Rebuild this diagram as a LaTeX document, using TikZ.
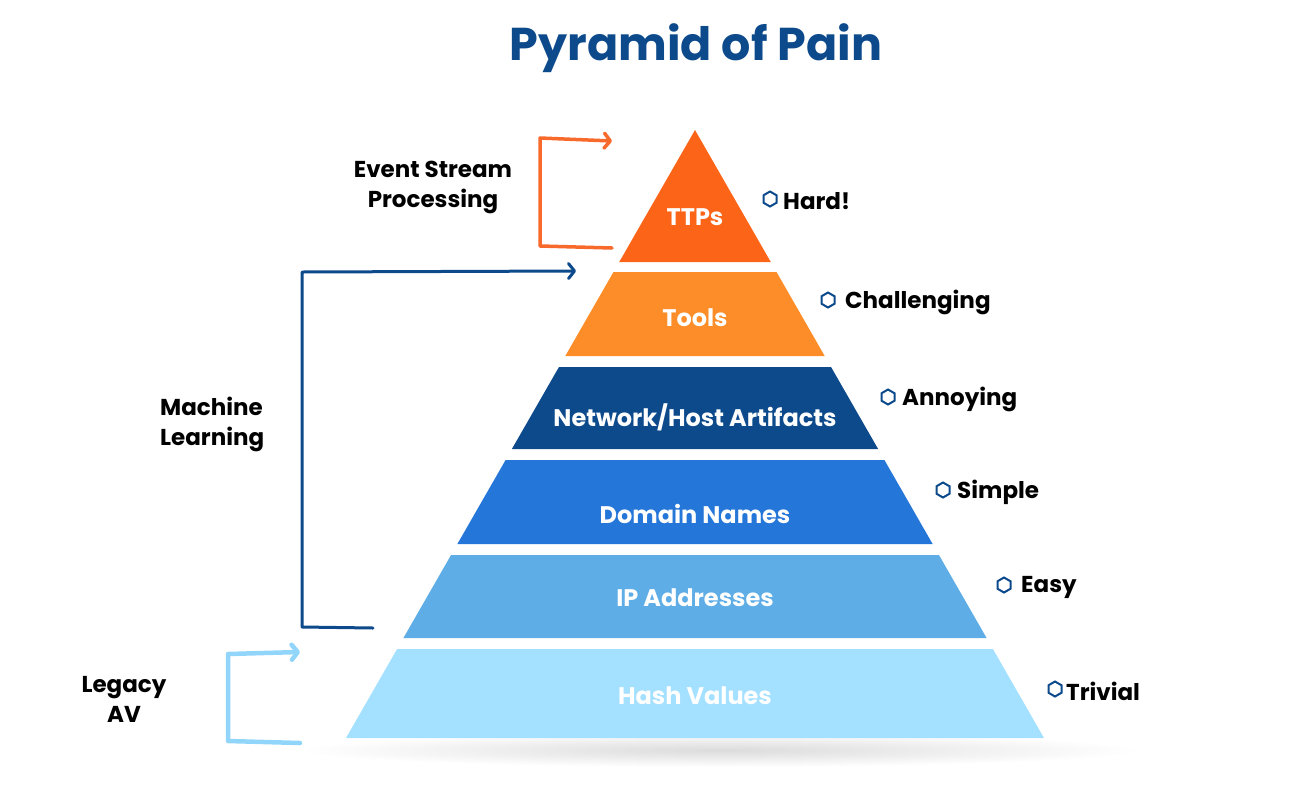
\documentclass[tikz,border=0pt]{standalone}
\usepackage{fontspec}
\setmainfont{Poppins}
\usetikzlibrary{arrows.meta,shapes.geometric,positioning}

\definecolor{ttpcol}{HTML}{FC6418}
\definecolor{toolcol}{HTML}{FC8D28}
\definecolor{netcol}{HTML}{0C4A8C}
\definecolor{domcol}{HTML}{2476D8}
\definecolor{ipcol}{HTML}{5EADE7}
\definecolor{hashcol}{HTML}{A4E0FF}
\definecolor{espcol}{HTML}{F8692C}
\definecolor{avcol}{HTML}{92D5FB}

%% one band of the pyramid: name, colour, top, bottom, text height, text
\newcommand{\pyrlayer}[6]{%
  \fill[#2] ({695-0.574*(#3-130)},#3) -- ({695+0.574*(#3-130)},#3)
    -- ({695+0.574*(#4-130)},#4) -- ({695-0.574*(#4-130)},#4) -- cycle;
  \node[layertext] (#1) at (695,#5) {#6};}

\begin{document}
\begin{tikzpicture}[x=1pt,y=-1pt,
    layertext/.style={text=white,font=\fontsize{24}{27}\selectfont\bfseries},
    sidetext/.style={text=black,font=\fontsize{23}{30}\selectfont\bfseries,
      inner sep=0pt,anchor=west},
    lefttext/.style={text=black,font=\fontsize{23}{30}\selectfont\bfseries,
      align=center,inner sep=0pt},
    hexmark/.style={draw=netcol,line width=2pt,regular polygon,
      regular polygon sides=6,shape border rotate=30,minimum size=15pt,inner sep=0pt},
    loop/.style={line width=#1,line cap=round,line join=round,
      -{Straight Barb[round,length=6pt,width=15pt]}}]
  \useasboundingbox (0,0) rectangle (1311,801);
  %% Shadow under the pyramid
  \shade[inner color=black!14,outer color=white] (720,750) ellipse [x radius=420pt,y radius=17pt];
  %% Title
  \node[text=netcol,font=\fontsize{46}{50}\selectfont\bfseries] (title) at (696,48) {Pyramid of Pain};
  %% Draw the bands
  \pyrlayer{ttp}{ttpcol}{130}{262}{217}{TTPs}
  \pyrlayer{tool}{toolcol}{272}{356}{318}{Tools}
  \pyrlayer{net}{netcol}{367}{449}{417}{Network/Host Artifacts}
  \pyrlayer{dom}{domcol}{460}{544}{514}{Domain Names}
  \pyrlayer{ip}{ipcol}{555}{638}{598}{IP Addresses}
  \pyrlayer{hash}{hashcol}{649}{738}{696}{Hash Values}
  %% Draw the difficulty marks
  \node[hexmark] (h1) at (770,199) {};
  \node[hexmark] (h2) at (828,300) {};
  \node[hexmark] (h3) at (888,397) {};
  \node[hexmark] (h4) at (943,490) {};
  \node[hexmark] (h5) at (1004,585) {};
  \node[hexmark] (h6) at (1055,689) {};
  \node[sidetext] (hard) at (783,201) {Hard!};
  \node[sidetext] (challenging) at (845,302) {Challenging};
  \node[sidetext] (annoying) at (902,399) {Annoying};
  \node[sidetext] (simple) at (957,492) {Simple};
  \node[sidetext] (easy) at (1021,587) {Easy};
  \node[sidetext] (trivial) at (1066,691) {Trivial};
  %% Draw the detection labels
  \node[lefttext] (esp) at (433,187) {Event Stream\\Processing};
  \node[lefttext,align=left,anchor=west] (ml) at (160,424) {Machine\\Learning};
  \node[lefttext] (av) at (124,699) {Legacy\\AV};
  %% Draw the loops
  \coordinate (espA) at (612,248);
  \coordinate (espB) at (612,141);
  \coordinate (mlA) at (373,628);
  \coordinate (mlB) at (576,271);
  \coordinate (avA) at (300,743);
  \coordinate (avB) at (300,652);
  \draw[loop=3.5pt,espcol] (espA) -- (540,246) -- (540,138) -- (espB);
  \draw[loop=3pt,netcol] (mlA) -- (302,627) -- (302,272) -- (mlB);
  \draw[loop=4.5pt,avcol] (avA) -- (228,741) -- (228,654) -- (avB);
\end{tikzpicture}
\end{document}
